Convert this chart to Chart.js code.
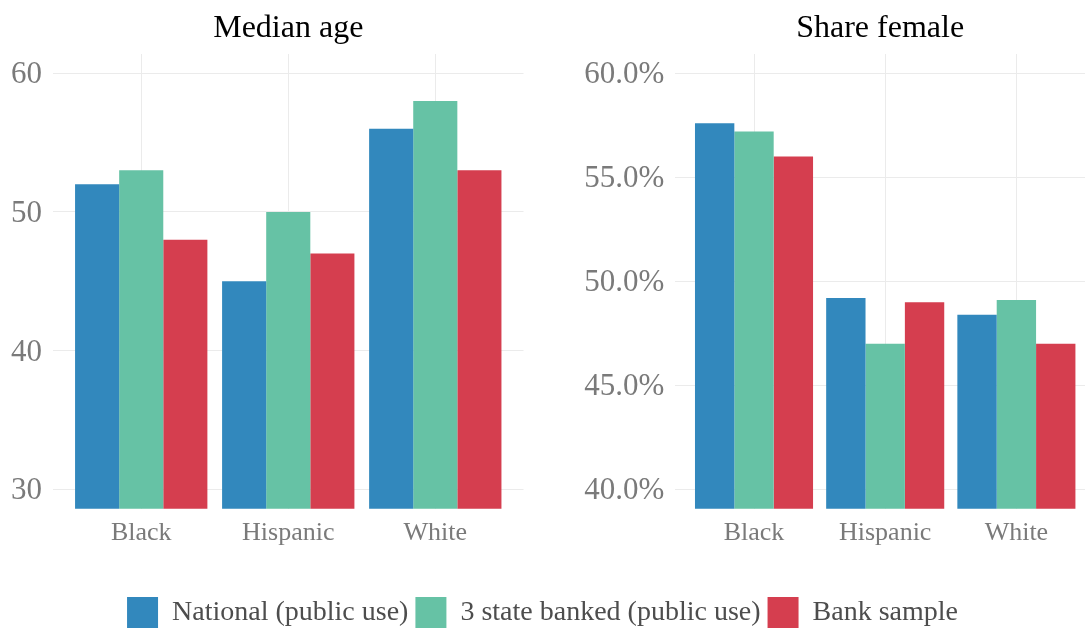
<!DOCTYPE html>
<html lang="en">
<head>
  <meta charset="UTF-8" />
  <title>Median age and share female</title>
  <script src="https://cdn.jsdelivr.net/npm/chart.js"></script>
  <style>
    body { margin: 0; background: #fff; overflow: hidden; }
    .panel { position: absolute; }
  </style>
</head>
<body>

  <!-- left panel -->
  <div class="panel" style="left:0; top:0;">
    <canvas id="ageChart" width="540" height="560"></canvas>
  </div>

  <!-- right panel -->
  <div class="panel" style="left:545px; top:0;">
    <canvas id="femaleChart" width="540" height="560"></canvas>
  </div>

  <!-- shared legend (canvas is tall because the layout caps a legend at half the canvas) -->
  <div class="panel" style="left:0; top:590px;">
    <canvas id="legendChart" width="1085" height="120"></canvas>
  </div>

  <script>
    // data
    const categories = ['Black', 'Hispanic', 'White'];
    const seriesNames = ['National (public use)', '3 state banked (public use)', 'Bank sample'];

    const ageNational = [52, 45, 56];
    const ageStateBanked = [53, 50, 58];
    const ageBankSample = [48, 47, 53];

    const femaleNational = [57.6, 49.2, 48.4];
    const femaleStateBanked = [57.2, 47.0, 49.1];
    const femaleBankSample = [56.0, 49.0, 47.0];

    const ageTicks = [30, 40, 50, 60];
    const femaleTicks = [40, 45, 50, 55, 60];

    const colors = ['#3288bd', '#66c2a5', '#d53e4f'];
    const serif = 'Liberation Serif, Times New Roman, serif';
    const tickGrey = '#7a7a7a';
    const gridGrey = '#ebebeb';

    Chart.defaults.font.family = serif;
    Chart.defaults.animation = false;

    // categories sit at x = 1, 2, 3 on a linear axis so the padding matches ggplot
    function toPoints(values) {
      return values.map((v, i) => ({ x: i + 1, y: v }));
    }

    function makeDatasets(seriesValues) {
      return seriesValues.map((vals, i) => ({
        label: seriesNames[i],
        data: toPoints(vals),
        backgroundColor: colors[i],
        borderColor: colors[i],
        borderWidth: 0,
        categoryPercentage: 0.9,
        barPercentage: 1.0
      }));
    }

    function panelOptions(cfg) {
      return {
        responsive: false,
        animation: false,
        layout: { padding: { left: 0, right: cfg.padRight, top: 0, bottom: 0 } },
        plugins: {
          legend: { display: false },
          tooltip: { enabled: false },
          title: {
            display: true,
            text: cfg.title,
            fullSize: false,
            color: '#000',
            font: { size: 32, weight: 'normal', family: serif },
            padding: { top: 9, bottom: 6.6 }
          }
        },
        scales: {
          x: {
            type: 'linear',
            min: 0.4,
            max: cfg.xMax,
            offset: false,
            border: { display: false },
            grid: { color: gridGrey, lineWidth: 1, drawTicks: false, offset: false },
            afterBuildTicks: (s) => { s.ticks = categories.map((c, i) => ({ value: i + 1 })); },
            afterFit: (s) => { s.height = cfg.xHeight; },
            ticks: {
              color: tickGrey,
              padding: 9,
              maxRotation: 0,
              autoSkip: false,
              font: { size: 26, family: serif },
              callback: (v) => categories[Math.round(v) - 1]
            }
          },
          y: {
            min: cfg.yMin,
            max: cfg.yMax,
            beginAtZero: false,
            border: { display: false },
            grid: { color: gridGrey, lineWidth: 1, drawTicks: false },
            afterBuildTicks: (s) => { s.ticks = cfg.yTicks.map(v => ({ value: v })); },
            afterFit: (s) => { s.width = cfg.yWidth; },
            ticks: {
              color: tickGrey,
              padding: 11,
              labelOffset: 2,
              font: { size: 31, family: serif },
              callback: cfg.yFormat
            }
          }
        }
      };
    }

    // Median age
    new Chart(document.getElementById('ageChart'), {
      type: 'bar',
      data: { datasets: makeDatasets([ageNational, ageStateBanked, ageBankSample]) },
      options: panelOptions({
        title: 'Median age',
        padRight: 16.5,
        xMax: 3.6,
        xHeight: 51.3,
        yMin: 28.6,
        yMax: 61.39,
        yTicks: ageTicks,
        yWidth: 53,
        yFormat: (v) => String(v)
      })
    });

    // Share female
    new Chart(document.getElementById('femaleChart'), {
      type: 'bar',
      data: { datasets: makeDatasets([femaleNational, femaleStateBanked, femaleBankSample]) },
      options: panelOptions({
        title: 'Share female',
        padRight: 0,
        xMax: 3.523,
        xHeight: 51.3,
        yMin: 39.07,
        yMax: 60.93,
        yTicks: femaleTicks,
        yWidth: 130.3,
        yFormat: (v) => v.toFixed(1) + '%'
      })
    });

    // legend only
    new Chart(document.getElementById('legendChart'), {
      type: 'bar',
      data: {
        labels: [],
        datasets: seriesNames.map((name, i) => ({
          label: name,
          data: [],
          backgroundColor: colors[i],
          borderColor: colors[i],
          borderWidth: 0
        }))
      },
      options: {
        responsive: false,
        animation: false,
        scales: { x: { display: false }, y: { display: false } },
        plugins: {
          tooltip: { enabled: false },
          legend: {
            position: 'top',
            labels: {
              boxWidth: 31,
              boxHeight: 31,
              padding: 7,
              color: '#4d4d4d',
              font: { size: 28, family: serif }
            }
          }
        }
      }
    });
  </script>
</body>
</html>
